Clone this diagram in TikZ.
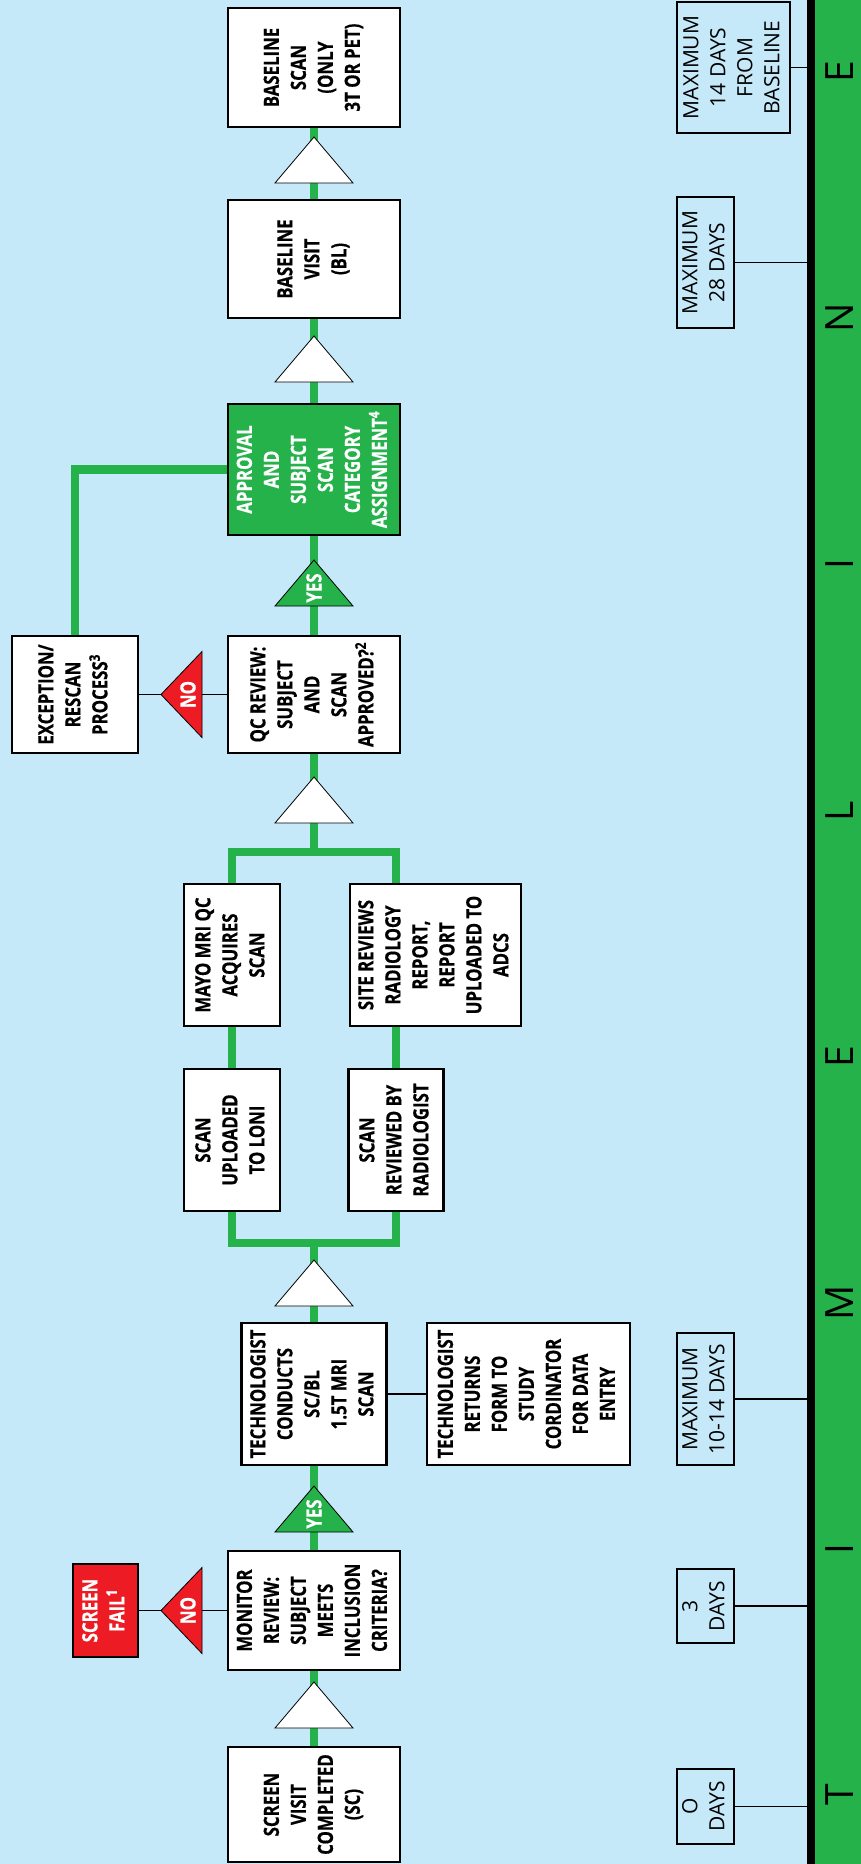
\documentclass[tikz,border=0pt]{standalone}
\usepackage{fontspec}
\setmainfont{Open Sans}
\newfontfamily\cbfont[FakeStretch=0.8,FakeBold=0.5]{Open Sans}
\usepackage{graphicx}
\definecolor{bgc}{RGB}{197,233,249}
\definecolor{gr}{RGB}{37,178,75}
\definecolor{rd}{RGB}{237,28,36}
\newcommand\vtext[1]{\rotatebox{90}{\begin{tabular}{@{}c@{}}#1\end{tabular}}}
\newcommand\uptri[4]{%
  \draw[tri,fill=#4] (#2-39,#3) -- (#2,#3-46) -- (#2+39,#3) -- cycle;
  \coordinate (#1) at (#2,#3-18);}
\newcommand\lefttri[4]{%
  \draw[tri,fill=#4] (#2,#3-43) -- (#2-41,#3) -- (#2,#3+43) -- cycle;
  \coordinate (#1) at (#2-14,#3);}
\pgfdeclarelayer{bglayer}
\pgfsetlayers{bglayer,main}
\tikzset{
  box/.style={draw, line width=2.2pt, fill=white, inner sep=0pt,
    font=\cbfont\bfseries\fontsize{21}{27}\selectfont},
  tlbox/.style={draw, line width=1.6pt, inner sep=0pt,
    font=\fontsize{21}{27}\selectfont},
  gline/.style={draw=gr, line width=8.5pt},
  kline/.style={draw=black, line width=1.6pt},
  tri/.style={draw=black, line width=0.8pt},
  lbl/.style={text=white, inner sep=0pt, rotate=90,
    font=\cbfont\bfseries\fontsize{21}{27}\selectfont},
  tlletter/.style={inner sep=0pt, rotate=90, font=\fontsize{39}{39}\selectfont},
}
\begin{document}
\begin{tikzpicture}[x=1pt,y=-1pt]
\useasboundingbox (0,0) rectangle (861,1864);
\coordinate (axT) at (811,0);
\coordinate (axB) at (811,1864);
\coordinate (split) at (314,852);
\coordinate (join) at (314,1243);

% flow boxes
\node[box, minimum width=172pt, minimum height=119pt] (blscan) at (314,67.5) {\vtext{BASELINE\\SCAN\\(ONLY\\3T OR PET)}};
\node[box, minimum width=172pt, minimum height=118pt] (blvisit) at (314,259) {\vtext{BASELINE\\VISIT\\(BL)}};
\node[box, fill=gr, text=white, minimum width=172pt, minimum height=131pt] (approval) at (314,469.5) {\vtext{APPROVAL\\AND\\SUBJECT\\SCAN\\CATEGORY\\ASSIGNMENT\textsuperscript{4}}};
\node[box, minimum width=172pt, minimum height=117pt] (qc) at (314,694.5) {\vtext{QC REVIEW:\\SUBJECT\\AND\\SCAN\\APPROVED?\textsuperscript{2}}};
\node[box, minimum width=126pt, minimum height=117pt] (exc) at (75,694.5) {\vtext{EXCEPTION/\\RESCAN\\PROCESS\textsuperscript{3}}};
\node[box, minimum width=96pt, minimum height=142pt] (mayo) at (232,955) {\vtext{MAYO MRI QC\\ACQUIRES\\SCAN}};
\node[box, minimum width=171pt, minimum height=142pt] (site) at (435.5,955) {\vtext{SITE REVIEWS\\RADIOLOGY\\REPORT,\\REPORT\\UPLOADED TO\\ADCS}};
\node[box, minimum width=96pt, minimum height=142pt] (loni) at (232,1140) {\vtext{SCAN\\UPLOADED\\TO LONI}};
\node[box, minimum width=95pt, minimum height=142pt] (scanrev) at (396,1140) {\vtext{SCAN\\REVIEWED BY\\RADIOLOGIST}};
\node[box, minimum width=145pt, minimum height=142pt] (tech) at (314,1394) {\vtext{TECHNOLOGIST\\CONDUCTS\\SC/BL\\1.5T MRI\\SCAN}};
\node[box, minimum width=203pt, minimum height=142pt] (returns) at (528.5,1394) {\vtext{TECHNOLOGIST\\RETURNS\\FORM TO\\STUDY\\CORDINATOR\\FOR DATA\\ENTRY}};
\node[box, minimum width=172pt, minimum height=119pt] (monitor) at (314,1610.5) {\vtext{MONITOR\\REVIEW:\\SUBJECT\\MEETS\\INCLUSION\\CRITERIA?}};
\node[box, fill=rd, text=white, minimum width=65pt, minimum height=93pt] (sfail) at (105.5,1610.5) {\vtext{SCREEN\\FAIL\textsuperscript{1}}};
\node[box, minimum width=172pt, minimum height=115pt] (sc) at (314,1804.5) {\vtext{SCREEN\\VISIT\\COMPLETED\\(SC)}};

% timeline boxes
\node[tlbox, minimum width=113pt, minimum height=131pt] (tl14) at (733.5,67.5) {\vtext{MAXIMUM\\14 DAYS\\FROM\\BASELINE}};
\node[tlbox, minimum width=57pt, minimum height=131pt] (tl28) at (705.5,262.5) {\vtext{MAXIMUM\\28 DAYS}};
\node[tlbox, minimum width=57pt, minimum height=132pt] (tl1014) at (705.5,1399) {\vtext{MAXIMUM\\10-14 DAYS}};
\node[tlbox, minimum width=57pt, minimum height=74pt] (tl3) at (705.5,1606) {\vtext{3\\DAYS}};
\node[tlbox, minimum width=57pt, minimum height=75pt] (tl0) at (705.5,1806.5) {\vtext{O\\DAYS}};

\begin{pgfonlayer}{bglayer}
  \fill[bgc] (0,0) rectangle (861,1864);
  \fill[gr] (axT) rectangle (861,1864);
  \draw[line width=8pt] (axT) -- (axB);
  \draw[gline] (blscan) -- (qc);
  \draw[gline] (qc) -- (split);
  \draw[gline] (loni.center) -- (mayo.center |- split) -- (scanrev.center |- split) -- (scanrev.center);
  \draw[gline] (loni.center) |- (join) -| (scanrev.center);
  \draw[gline] (join) -- (tech) -- (sc);
  \draw[gline] (exc.north) |- (approval.west);
\end{pgfonlayer}

% black connectors
\draw[kline] (exc) -- (qc);
\draw[kline] (sfail) -- (monitor);
\draw[kline] (tech) -- (returns);
\foreach \b in {tl14,tl28,tl1014,tl3,tl0} {\draw[kline] (\b) -- (\b -| axT);}

% triangles
\uptri{t1}{314}{183}{white}
\uptri{t2}{314}{382}{white}
\uptri{yes1}{314}{606}{gr}
\uptri{t3}{314}{823}{white}
\uptri{t4}{314}{1306}{white}
\uptri{yes2}{314}{1532}{gr}
\uptri{t5}{314}{1728}{white}
\lefttri{no1}{202}{694.5}{rd}
\lefttri{no2}{202}{1610.5}{rd}
\node[lbl] (yes1l) at (yes1) {YES};
\node[lbl] (yes2l) at (yes2) {YES};
\node[lbl] (no1l) at (no1) {NO};
\node[lbl] (no2l) at (no2) {NO};

% timeline letters
\node[tlletter] (L1) at (840,1795) {T};
\node[tlletter] (L2) at (840,1549) {I};
\node[tlletter] (L3) at (840,1303) {M};
\node[tlletter] (L4) at (840,1057) {E};
\node[tlletter] (L5) at (840,811) {L};
\node[tlletter] (L6) at (840,564) {I};
\node[tlletter] (L7) at (840,318) {N};
\node[tlletter] (L8) at (840,72) {E};
\end{tikzpicture}
\end{document}
